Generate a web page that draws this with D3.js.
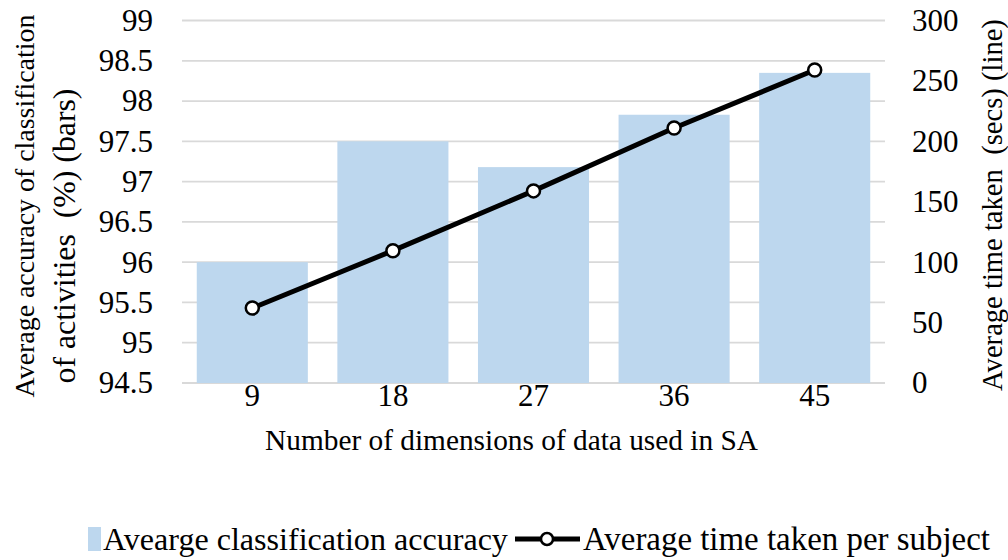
<!DOCTYPE html>
<html><head><meta charset="utf-8">
<script src="https://cdn.jsdelivr.net/npm/d3@7"></script>
</head><body style="margin:0;background:#fff">
<svg id="c" width="1008" height="560"></svg>
<script>
const categories = ["9","18","27","36","45"];
const accuracy = [96.0, 97.5, 97.18, 97.83, 98.35];
const timeTaken = [62, 109.5, 159, 211, 259];
const leftTicks = [94.5,95,95.5,96,96.5,97,97.5,98,98.5,99];
const rightTicks = [0,50,100,150,200,250,300];

const FONT = "Liberation Serif";
const fs = 31;
const svg = d3.select("#c");
const m = {l:182, r:885, t:20.5, b:383};
const x = d3.scaleBand().domain(categories).range([m.l, m.r]).paddingInner(0.21).paddingOuter(0.105);
const yL = d3.scaleLinear().domain([94.5,99]).range([m.b, m.t]);
const yR = d3.scaleLinear().domain([0,300]).range([m.b, m.t]);

// gridlines
svg.append("g").selectAll("line").data(leftTicks).join("line")
  .attr("x1", m.l).attr("x2", m.r).attr("y1", d=>yL(d)).attr("y2", d=>yL(d))
  .attr("stroke", "#d9d9d9").attr("stroke-width", 1.8);

// bars
svg.append("g").selectAll("rect").data(accuracy).join("rect")
  .attr("x", (d,i)=>x(categories[i])).attr("width", x.bandwidth())
  .attr("y", d=>yL(d)).attr("height", d=>yL(94.5)-yL(d))
  .attr("fill", "#bdd7ee");

function styleAxis(g){
  g.select(".domain").remove();
  g.attr("font-family", FONT).attr("font-size", fs);
  g.selectAll("text").attr("fill", "#000");
}
svg.append("g").attr("transform", `translate(${m.l},0)`)
  .call(d3.axisLeft(yL).tickValues(leftTicks).tickSize(0).tickPadding(29).tickFormat(d=>String(d)))
  .call(styleAxis);
svg.append("g").attr("transform", `translate(${m.r},0)`)
  .call(d3.axisRight(yR).tickValues(rightTicks).tickSize(0).tickPadding(27))
  .call(styleAxis);
svg.append("g").attr("transform", `translate(0,${m.b})`)
  .call(d3.axisBottom(x).tickSize(0).tickPadding(2))
  .call(styleAxis)
  .selectAll("text").attr("dy", "0").attr("y", 23);

// line
const cx = (d,i)=>x(categories[i]) + x.bandwidth()/2;
svg.append("path").datum(timeTaken)
  .attr("d", d3.line().x(cx).y(d=>yR(d)))
  .attr("fill","none").attr("stroke","#000").attr("stroke-width",5);
svg.append("g").selectAll("circle").data(timeTaken).join("circle")
  .attr("cx", cx).attr("cy", d=>yR(d)).attr("r", 6.5)
  .attr("fill","#fff").attr("stroke","#000").attr("stroke-width",2.5);

// text helper: size font so text spans the given length
function label(tf, anchor, str, len){
  const t = svg.append("text").attr("transform", tf).attr("text-anchor", anchor)
    .attr("font-family", FONT).attr("font-size", 30).attr("fill", "#000")
    .style("white-space","pre").text(str);
  const w = t.node().getComputedTextLength();
  t.attr("font-size", 30*len/w);
  return t;
}
label("translate(511.5,450)", "middle", "Number of dimensions of data used in SA", 493);
label("translate(34,206) rotate(-90)", "middle", "Average accuracy of classification", 383);
label("translate(75,236) rotate(-90)", "middle", "of activities  (%) (bars)", 295);
label("translate(1002,205) rotate(-90)", "middle", "Average time taken  (secs) (line)", 372);

// legend
svg.append("rect").attr("x",88).attr("y",527).attr("width",13).attr("height",24).attr("fill","#bdd7ee");
label("translate(103,550)", "start", "Avearge classification accuracy", 405);
svg.append("line").attr("x1",515).attr("x2",580).attr("y1",539).attr("y2",539).attr("stroke","#000").attr("stroke-width",5);
svg.append("circle").attr("cx",547).attr("cy",539).attr("r",6).attr("fill","#fff").attr("stroke","#000").attr("stroke-width",2.5);
label("translate(583,550)", "start", "Average time taken per subject", 407);
</script>
</body></html>
